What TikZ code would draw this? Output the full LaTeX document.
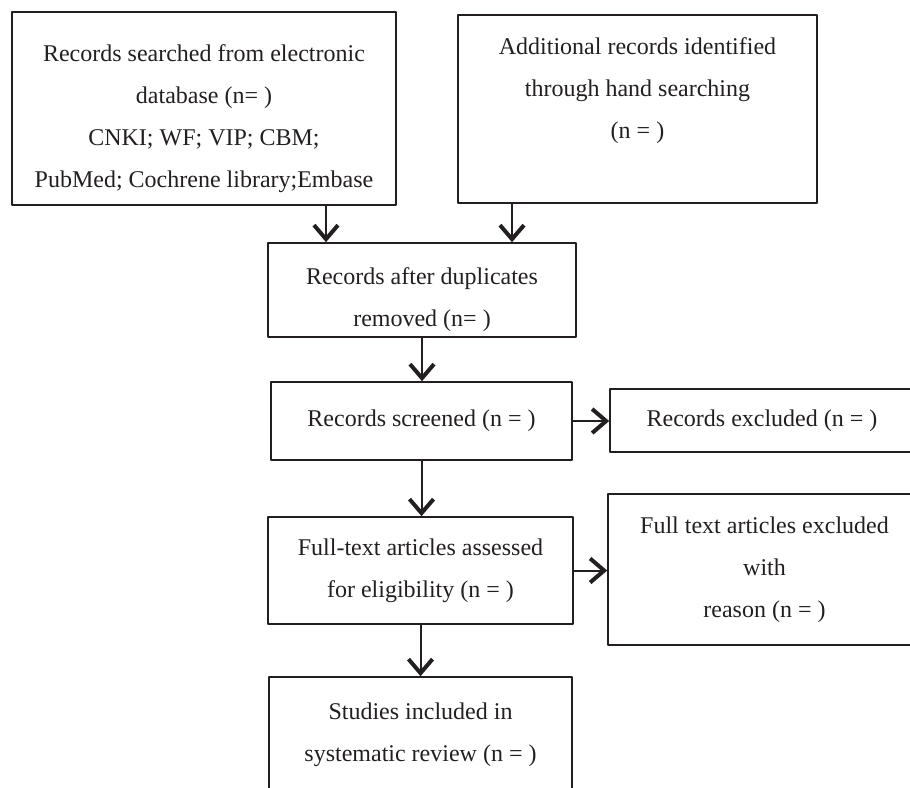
\documentclass[tikz,border=0pt]{standalone}
\usepackage{fontspec}
\setmainfont{Liberation Serif}
\usetikzlibrary{arrows.meta,calc}
\definecolor{ink}{RGB}{35,31,32}
\newcommand{\lowtop}{\rule{0pt}{18.5pt}}
\begin{document}
\begin{tikzpicture}[x=0.5pt,y=-0.5pt, font=\fontsize{12}{21}\selectfont, line join=round,
	box/.style={draw=ink, text=ink, line width=0.8pt, align=center, inner sep=0pt},
	arr/.style={draw=ink, line width=1pt, -{Straight Barb[length=7pt,width=12pt,line width=2pt]}}]
	\useasboundingbox (0,0) rectangle (910,787);
	\clip (0,0) rectangle (910,787);
	% Khung
	\node[box, minimum width=192pt, minimum height=96.5pt] (src) at (204,108.5)
		{\lowtop Records searched from electronic\\database (n= )\\CNKI; WF; VIP; CBM;\\PubMed; Cochrene library;Embase};
	\node[box, minimum width=179.5pt, minimum height=94pt] (hand) at (637.5,109)
		{Additional records identified\\through hand searching\\(n = )\\\mbox{}};
	\node[box, minimum width=154pt, minimum height=47pt] (dup) at (422,290)
		{\lowtop Records after duplicates\\removed (n= )};
	\node[box, minimum width=150.5pt, minimum height=39pt] (scr) at (421.5,421)
		{Records screened (n = )};
	\node[box, minimum width=152pt, minimum height=31.5pt] (exc) at (762,420.5)
		{Records excluded (n = )};
	\node[box, minimum width=152.5pt, minimum height=53.5pt] (full) at (420.5,570.5)
		{Full-text articles assessed\\for eligibility (n = )};
	\node[box, minimum width=156.5pt, minimum height=75.5pt] (fexc) at (764.5,569.5)
		{Full text articles excluded\\with\\reason (n = )};
	\node[box, minimum width=151.5pt, minimum height=58pt] (inc) at (420.5,735)
		{Studies included in\\systematic review (n = )};
	% Mui ten
	\draw[arr] ([xshift=61pt]src.south) -- ([xshift=61pt]src.south |- dup.north);
	\draw[arr] ([xshift=-62.75pt]hand.south) -- ([xshift=-62.75pt]hand.south |- dup.north);
	\draw[arr] (dup.south) -- (dup.south |- scr.north);
	\draw[arr] (scr.south) -- (scr.south |- full.north);
	\draw[arr] (full.south) -- (full.south |- inc.north);
	\draw[arr] (scr.east) -- (scr.east -| exc.west);
	\draw[arr] (full.east) -- (full.east -| fexc.west);
\end{tikzpicture}
\end{document}
